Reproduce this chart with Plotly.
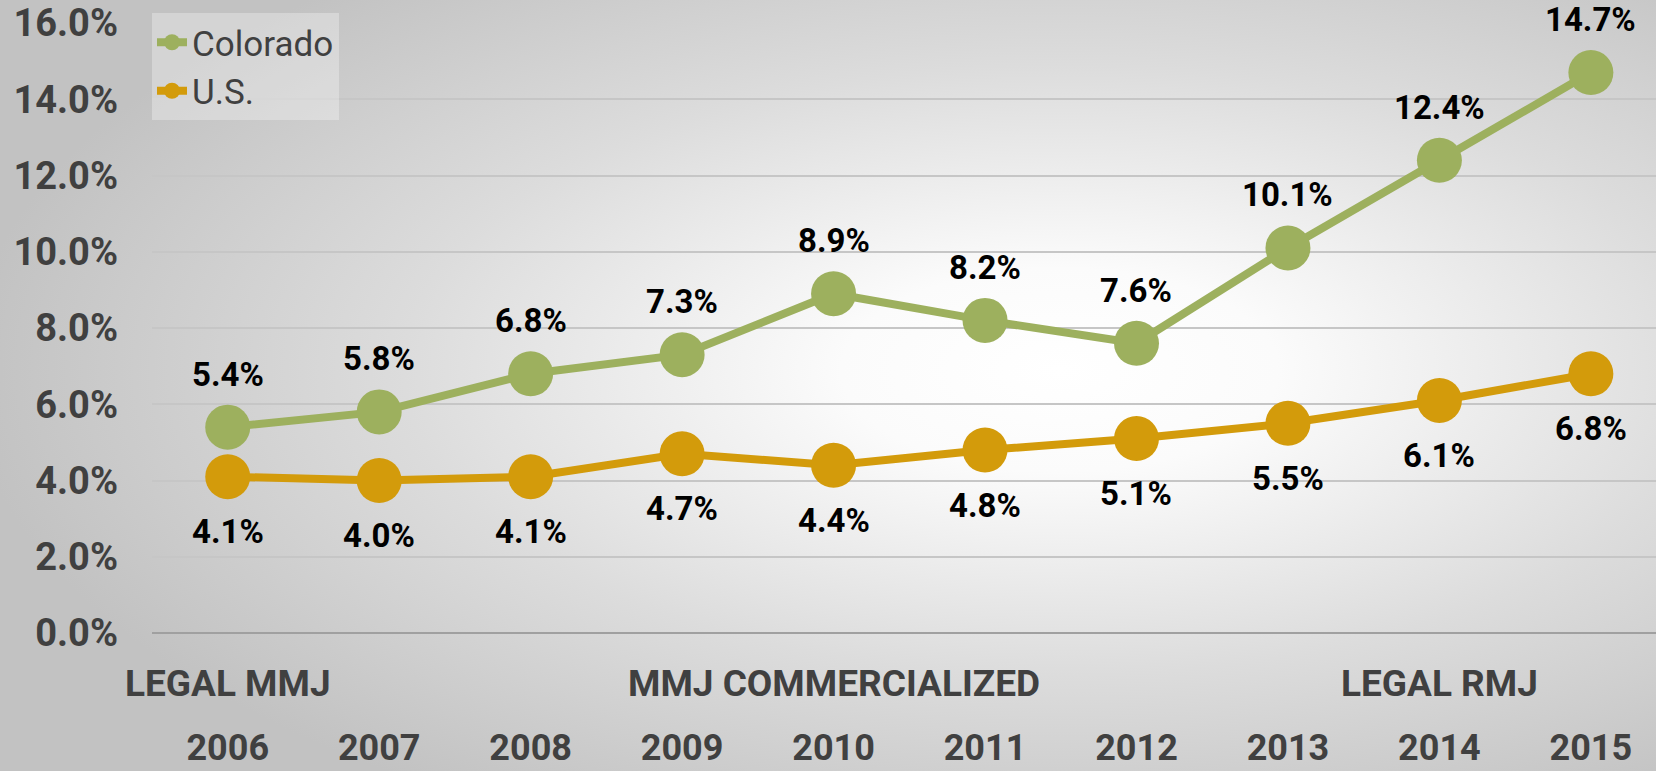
import base64
import plotly.graph_objects as go

# ---- data ----
years = ["2006", "2007", "2008", "2009", "2010", "2011", "2012", "2013", "2014", "2015"]
colorado = [5.4, 5.8, 6.8, 7.3, 8.9, 8.2, 7.6, 10.1, 12.4, 14.7]
us = [4.1, 4.0, 4.1, 4.7, 4.4, 4.8, 5.1, 5.5, 6.1, 6.8]
event_years = ["2006", "2010", "2014"]
event_labels = ["LEGAL MMJ", "MMJ COMMERCIALIZED", "LEGAL RMJ"]
y_ticks = [0, 2, 4, 6, 8, 10, 12, 14, 16]

# ---- style ----
W, H = 1656, 771
ML, MR, MT, MB = 152, 0, 23, 138
GREEN = "#9DB05E"
GOLD = "#D39B0B"
DARK = "#404040"
FONT = "Roboto"

fig = go.Figure()
fig.add_trace(go.Scatter(
    x=years, y=colorado, name="Colorado", mode="lines+markers",
    line=dict(color=GREEN, width=8),
    marker=dict(color=GREEN, size=45, line=dict(width=0)),
    hoverinfo="skip",
))
fig.add_trace(go.Scatter(
    x=years, y=us, name="U.S.", mode="lines+markers",
    line=dict(color=GOLD, width=8),
    marker=dict(color=GOLD, size=45, line=dict(width=0)),
    hoverinfo="skip",
))

label_font = dict(family=FONT, size=33, color="#000000")
for i, v in enumerate(colorado):
    fig.add_annotation(x=i, y=v, text=f"<b>{v:.1f}%</b>",
                       showarrow=False, yshift=53, font=label_font)
for i, v in enumerate(us):
    fig.add_annotation(x=i, y=v, text=f"<b>{v:.1f}%</b>",
                       showarrow=False, yshift=-55, font=label_font)
for yr, lab in zip(event_years, event_labels):
    fig.add_annotation(x=years.index(yr), y=0, text=f"<b>{lab}</b>",
                       showarrow=False, yanchor="middle", yshift=-50,
                       font=dict(family=FONT, size=37, color=DARK))

# radial gradient background
svg = f'''<svg xmlns="http://www.w3.org/2000/svg" width="{W}" height="{H}" viewBox="0 0 {W} {H}" preserveAspectRatio="none">
<defs><radialGradient id="g" cx="0.64" cy="0.48" r="0.66">
<stop offset="0" stop-color="#ffffff"/>
<stop offset="0.2" stop-color="#fbfbfb"/>
<stop offset="0.6" stop-color="#dcdcdc"/>
<stop offset="1" stop-color="#c2c2c2"/>
</radialGradient></defs>
<rect x="0" y="0" width="{W}" height="{H}" fill="url(#g)"/>
</svg>'''
src = "data:image/svg+xml;base64," + base64.b64encode(svg.encode()).decode()
pw = W - ML - MR
ph = H - MT - MB

fig.update_layout(
    width=W, height=H, autosize=False,
    margin=dict(l=ML, r=MR, t=MT, b=MB, pad=0, autoexpand=False),
    paper_bgcolor="#d4d4d4",
    plot_bgcolor="rgba(0,0,0,0)",
    images=[dict(source=src, xref="paper", yref="paper",
                 x=-ML / pw, y=1 + MT / ph, sizex=W / pw, sizey=H / ph,
                 xanchor="left", yanchor="top", sizing="stretch", layer="below")],
    showlegend=True,
    legend=dict(x=0, y=1 + 10 / ph, xanchor="left", yanchor="top",
                bgcolor="rgba(255,255,255,0.3)", borderwidth=0,
                font=dict(family=FONT, size=35, color=DARK)),
    font=dict(family=FONT, color=DARK),
)
fig.update_xaxes(
    type="category", categoryorder="array", categoryarray=years,
    range=[-0.5, 9.43], showgrid=False, zeroline=False, showline=False,
    automargin=False,
    ticks="", tickfont=dict(family=FONT, size=36, color=DARK, weight="bold"),
    ticklabelstandoff=90, fixedrange=True,
)
fig.update_yaxes(
    range=[0, 16], tickvals=y_ticks, ticktext=[f"{t:.1f}%" for t in y_ticks],
    showgrid=True, gridcolor="#c6c6c6", gridwidth=1.5,
    zeroline=True, zerolinecolor="#a0a0a0", zerolinewidth=2,
    showline=False, ticks="", automargin=False,
    tickfont=dict(family=FONT, size=38, color=DARK, weight="bold"),
    ticklabelstandoff=33, fixedrange=True,
)

fig.write_html("out.html", config={"displayModeBar": False},
               post_script="document.body.style.margin='0';document.body.style.overflow='hidden';")
